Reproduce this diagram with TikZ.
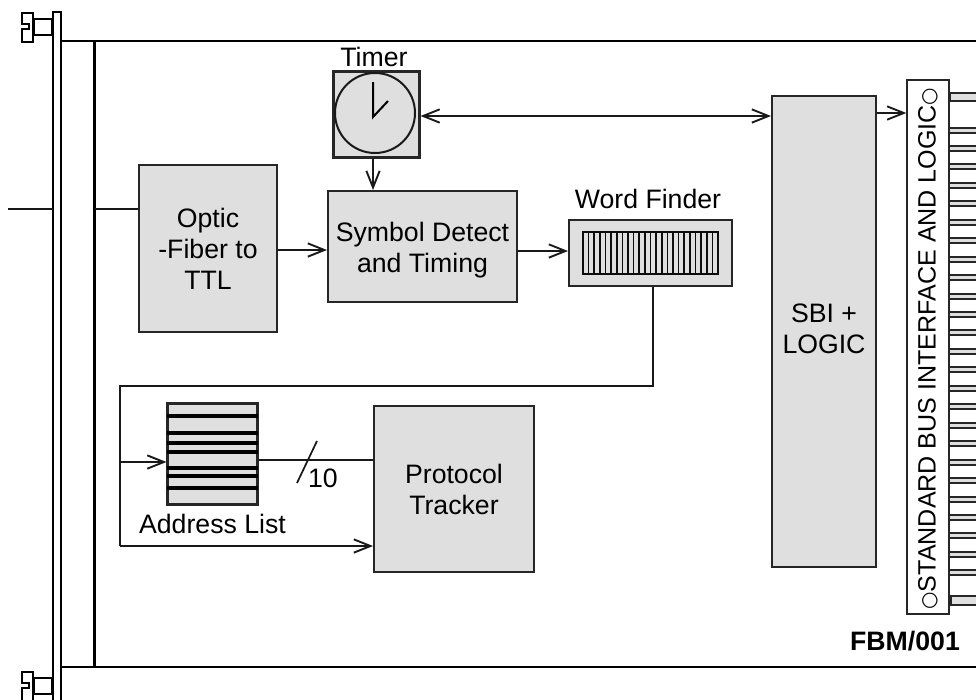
\documentclass[tikz,border=0pt]{standalone}
\usepackage{fontspec}
\setmainfont{Liberation Sans}
\usetikzlibrary{arrows.meta}
\definecolor{boxgray}{HTML}{DFDFDF}
\tikzset{
  px/.style={x=0.75pt,y=-0.75pt},
  wire/.style={line width=1.5pt,black!90},
  flow/.style={wire,-{Straight Barb[length=12.5pt,width=10pt,line width=1.4pt]}},
  biflow/.style={wire,{Straight Barb[length=12.5pt,width=10pt,line width=1.4pt]}-{Straight Barb[length=12.5pt,width=10pt,line width=1.4pt]}},
  block/.style 2 args={draw=black!85,line width=1.4pt,fill=boxgray,minimum width=#1*0.75pt-1.4pt,minimum height=#2*0.75pt-1.4pt,inner sep=0pt,align=center,font=\fontsize{20pt}{23.25pt}\selectfont},
  label/.style={inner sep=0pt,font=\fontsize{20pt}{23.25pt}\selectfont},
  panel/.style={line width=1.5pt,black},
  pin/.style={draw=black!85,fill=boxgray,line width=1.5pt}
}
\begin{document}
\begin{tikzpicture}[px]
\useasboundingbox (0,0) rectangle (976,700);
\fill[white] (0,0) rectangle (976,700);
% front panel
\draw[panel] (53,701) -- (53,12) -- (61,12) -- (61,701);
\draw[line width=2pt] (61,12) -- (61,701);
\draw[panel] (61,41) -- (976,41);
\draw[panel] (61,667) -- (976,667);
\draw[line width=2.4pt] (94.5,41) -- (94.5,667);
% top fastener
\draw[panel] (22,13) -- (33,13) -- (33,42) -- (22,42) -- (22,29) -- (29,29) -- (29,24) -- (22,24) -- cycle;
\draw[panel] (34,19) rectangle (52,35);
% bottom fastener
\draw[panel] (22,702) -- (22,688) -- (29,688) -- (29,683) -- (22,683) -- (22,672) -- (33,672) -- (33,702);
\draw[panel] (34,678) rectangle (52,694);
% blocks
\node[block={140}{169}] (optic) at (208,248.5) {Optic\\-Fiber to\\TTL};
\node[block={191}{113}] (symbol) at (422.5,246.5) {\rule{0pt}{19.8pt}Symbol Detect\\and Timing};
\node[block={87}{87},line width=2.2pt] (timer) at (376.5,114.5) {};
\node[block={165}{68}] (finder) at (650.5,253) {};
\node[block={106}{473}] (sbi) at (824,331.5) {SBI +\\LOGIC\rule[-3.75pt]{0pt}{1pt}};
\node[block={162}{168}] (tracker) at (454,489) {Protocol\\Tracker};
\node[block={91}{102},line width=2.3pt] (addr) at (212.5,454) {};
\node[draw=black!85,line width=1.5pt,fill=white,minimum width=31pt,minimum height=401pt,inner sep=0pt] (bus) at (928,347) {};
% labels
\node[label] (timerlab) at (374,56.5) {Timer};
\node[label] (finderlab) at (648,198.5) {Word Finder};
\node[label] (addrlab) at (212.5,523.5) {Address List};
\node[label] (ten) at (323,478.5) {10};
\node[label,font=\bfseries\fontsize{20pt}{24pt}\selectfont] (fbm) at (905,641.5) {FBM/001};
\node[label,rotate=90] (buslab) at (928,348.5) {\fontsize{18.8pt}{24pt}\selectfont{\fontspec{DejaVu Sans}\fontsize{15pt}{24pt}\selectfont ○}STANDARD BUS INTERFACE AND LOGIC{\fontspec{DejaVu Sans}\fontsize{15pt}{24pt}\selectfont ○}};
% clock
\node[draw=black!90,line width=1.5pt,circle,minimum size=60pt,inner sep=0pt] (clock) at (375,113) {};
\draw[line width=1.5pt] (373,82) -- (373,117) -- (388,101);
% word finder comb
\draw[line width=1.3pt,black!95] (583,232) rectangle (718,274);
\foreach \i in {1,...,23} \draw[line width=1.3pt,black!95] ({583+\i*5.625},232) -- ({583+\i*5.625},274);
% address rows
\foreach \y in {416,433,443,452,468,476,488} \draw[line width=2.6pt] (167,\y) -- (258,\y);
% connector pins
\draw[pin] (976,92.5) -- (950,92.5) -- (950,100.5) -- (976,100.5);
\draw[pin] (976,596) -- (951,596) -- (951,605) -- (976,605);
\foreach \i in {0,...,24} {
  \pgfmathsetmacro{\yy}{127.5+\i*18.45}
  \draw[pin] (976,\yy) -- (949,\yy) -- (949,\yy+5) -- (976,\yy+5);
}
% connector coordinates
\coordinate (tap) at (653,386);
\coordinate (corner) at (120,386);
\coordinate (foot) at (120,546);
\coordinate (midtap) at (120,462);
% connectors
\draw[wire] (8,209) -- (53,209);
\draw[wire] (95,209) -- (optic.west |- 0,209);
\draw[flow] (optic.east |- 0,250) -- (symbol.west |- 0,250);
\draw[flow] (symbol.east |- 0,251) -- (finder.west |- 0,251);
\draw[flow] (timer.south -| 373,0) -- (symbol.north -| 373,0);
\draw[biflow] (timer.east |- 0,116) -- (sbi.west |- 0,116);
\draw[flow] (sbi.east |- 0,113) -- (bus.west |- 0,113);
\draw[wire] (finder.south -| tap) -- (tap) -- (corner) -- (foot);
\draw[flow] (midtap) -- (addr.west |- midtap);
\draw[flow] (foot) -- (tracker.west |- foot);
\draw[wire] (addr.east |- 0,460) -- (tracker.west |- 0,460);
\draw[wire,line width=1.3pt] (297,483) -- (317,441);
\end{tikzpicture}
\end{document}
